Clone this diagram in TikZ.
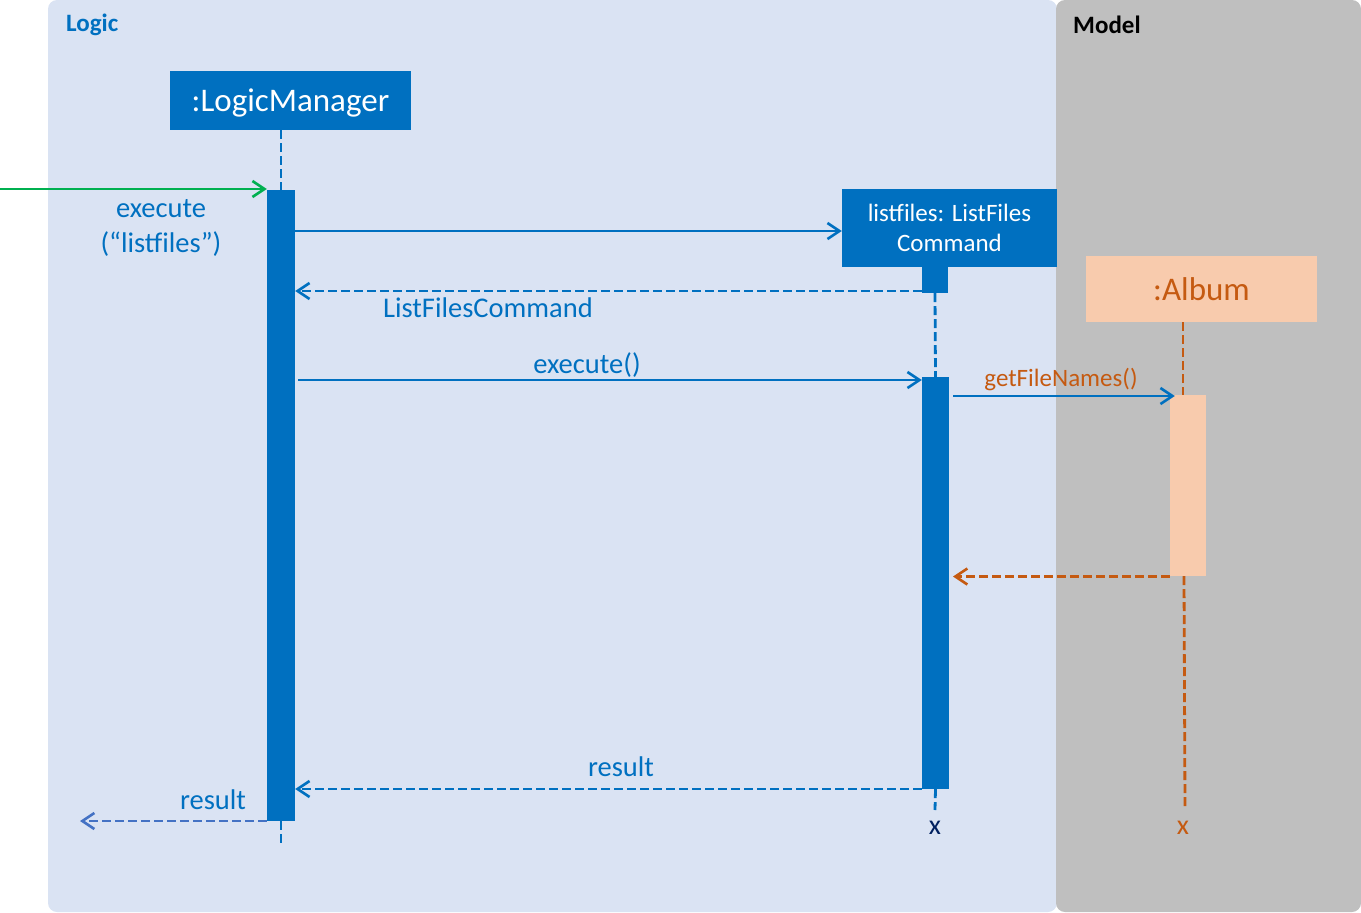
\documentclass[tikz,border=0pt]{standalone}
\usepackage{fontspec}
\setmainfont{Carlito}
\usetikzlibrary{arrows.meta}
\definecolor{logicbg}{HTML}{DAE3F3}
\definecolor{modelbg}{HTML}{BFBFBF}
\definecolor{mblue}{HTML}{0070C0}
\definecolor{mgreen}{HTML}{00B050}
\definecolor{morange}{HTML}{C55A11}
\definecolor{mpeach}{HTML}{F8CBAD}
\definecolor{mnavy}{HTML}{002060}
\definecolor{rblue}{HTML}{4472C4}
\begin{document}
\begin{tikzpicture}[x=1pt,y=-1pt,
  objbox/.style={fill=mblue, text=white, inner sep=0pt, align=center},
  actbar/.style={fill=mblue, inner sep=0pt},
  lifeline/.style={draw=mblue, line width=2.8pt, dash pattern=on 9pt off 4pt},
  msg/.style={draw=mblue, line width=2.6pt, -{Straight Barb[length=12pt,width=16pt,line width=2.6pt]}},
  ret/.style={msg, dash pattern=on 9pt off 4pt},
  lbl/.style={text=mblue, font=\fontsize{28.5}{35}\selectfont, inner sep=0pt, align=center},
  big/.style={font=\fontsize{33}{39}\selectfont}
]
\useasboundingbox (0,0) rectangle (1361,913);
% panels
\fill[logicbg, rounded corners=9pt] (48,0) rectangle (1057,912);
\fill[modelbg, rounded corners=9pt] (1056,0) rectangle (1361,912);
\node[anchor=west, text=mblue, font=\fontsize{25}{30}\selectfont\bfseries, inner sep=0pt] (logiclbl) at (66,25) {Logic};
\node[anchor=west, text=black, font=\fontsize{25}{30}\selectfont\bfseries, inner sep=0pt] (modellbl) at (1073,25) {Model};

% objects
\node[objbox, big, text depth=0pt, minimum width=241pt, minimum height=59pt] (lm) at (290.5,100.5) {:LogicManager};
\node[actbar, minimum width=28pt, minimum height=631pt] (lmact) at (281,505.5) {};
\node[objbox, font=\fontsize{25}{30}\selectfont, minimum width=215pt, minimum height=78pt] (lf) at (949.5,228) {listfiles: ListFiles\\Command};
\node[actbar, minimum width=26pt, minimum height=26pt] (sact) at (935,280) {};
\node[actbar, minimum width=27pt, minimum height=412pt] (lfact) at (935.5,583) {};
\node[fill=mpeach, text=morange, big, inner sep=0pt, minimum width=231pt, minimum height=66pt] (al) at (1201.5,289) {:Album};
\node[fill=mpeach, inner sep=0pt, minimum width=36pt, minimum height=181pt] (aact) at (1188,485.5) {};

% lifelines
\coordinate (lmtop) at (281,130);
\coordinate (lmend) at (281,846);
\draw[lifeline] (lmtop) -- (lmact.north);
\draw[lifeline] (lmact.south) -- (lmend);
\coordinate (lfend) at (935,810);
\draw[lifeline] (sact.south) -- (lfact.north);
\draw[lifeline] (lfact.south) -- (lfend);
\coordinate (altop) at (1183,322);
\coordinate (alact) at (1183,395);
\coordinate (albot) at (1184,576);
\coordinate (alend) at (1185,808);
\draw[lifeline, draw=morange] (altop) -- (alact);
\draw[lifeline, draw=morange] (albot) -- (alend);
\node[text=mnavy, font=\fontsize{28}{32}\selectfont, inner sep=0pt] (lfx) at (935,828) {x};
\node[text=morange, font=\fontsize{28}{32}\selectfont, inner sep=0pt] (alx) at (1183,828) {x};

% messages
\coordinate (start) at (0,189);
\draw[msg, draw=mgreen] (start) -- (start -| lmact.west);
\node[lbl] (l1) at (161,228) {execute\\(“listfiles”)};

\coordinate (y1) at (0,231);
\draw[msg] (lmact.east |- y1) -- (lf.west |- y1);

\coordinate (y2) at (0,291);
\draw[ret] (sact.west |- y2) -- (lmact.east |- y2);
\node[lbl] (l2) at (488,308) {ListFilesCommand};

\coordinate (y3) at (298,380);
\draw[msg] (y3) -- (lfact.west |- y3);
\node[lbl] (l3) at (587,365) {execute()};

\coordinate (y4) at (953,396);
\draw[msg] (y4) -- ([xshift=5pt]aact.west |- y4);
\node[lbl, text=morange, font=\fontsize{25}{30}\selectfont] (l4) at (1061,380) {getFileNames()};

\coordinate (y5) at (953,576.5);
\draw[ret, draw=morange] (aact.west |- y5) -- (y5);

\coordinate (y6) at (0,789);
\draw[ret] (lfact.west |- y6) -- (lmact.east |- y6);
\node[lbl] (l6) at (621,767) {result};

\coordinate (fend) at (80,821);
\draw[ret, draw=rblue] (lmact.south west |- fend) -- (fend);
\node[lbl] (l7) at (213,800) {result};
\end{tikzpicture}
\end{document}
